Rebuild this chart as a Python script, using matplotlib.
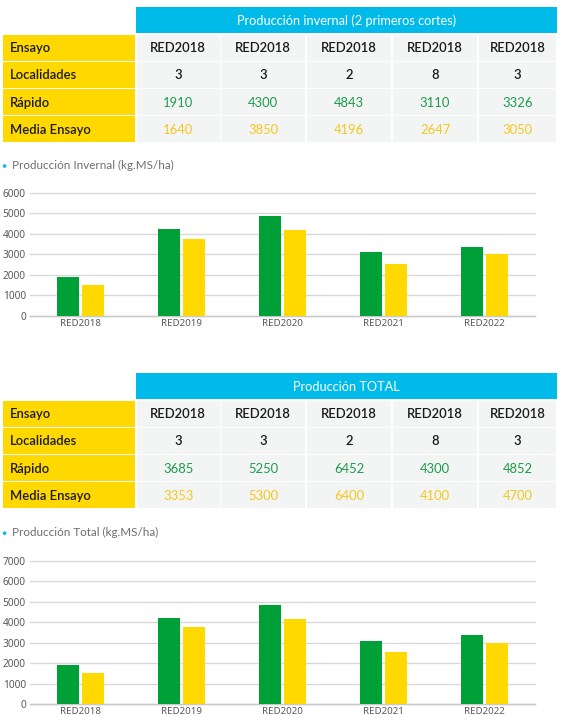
import matplotlib
matplotlib.use('Agg')
import matplotlib.pyplot as plt
from matplotlib.patches import Rectangle, Circle
import numpy as np

# ---------------- data ----------------
categories = ['RED2018', 'RED2019', 'RED2020', 'RED2021', 'RED2022']
row_labels = ['Ensayo', 'Localidades', 'Rápido', 'Media Ensayo']
ensayo_labels = ['RED2018', 'RED2018', 'RED2018', 'RED2018', 'RED2018']
localidades = [3, 3, 2, 8, 3]

inv_title = 'Producción invernal (2 primeros cortes)'
inv_rapido_tbl = [1910, 4300, 4843, 3110, 3326]
inv_media_tbl = [1640, 3850, 4196, 2647, 3050]

tot_title = 'Producción TOTAL'
tot_rapido_tbl = [3685, 5250, 6452, 4300, 4852]
tot_media_tbl = [3353, 5300, 6400, 4100, 4700]

inv_chart_title = 'Producción Invernal (kg.MS/ha)'
inv_rapido_bar = [1900, 4230, 4860, 3110, 3355]
inv_media_bar = [1510, 3750, 4180, 2530, 3010]
inv_ticks = [0, 1000, 2000, 3000, 4000, 5000, 6000]

tot_chart_title = 'Producción Total (kg.MS/ha)'
tot_rapido_bar = [1900, 4230, 4860, 3110, 3355]
tot_media_bar = [1510, 3750, 4180, 2530, 3010]
tot_ticks = [0, 1000, 2000, 3000, 4000, 5000, 6000, 7000]

# ---------------- style ----------------
W, H = 562, 717
CYAN = '#00bbe9'
YEL = '#ffd800'
CELL = '#f3f4f4'
GREEN_BAR = '#00a038'
YEL_BAR = '#ffd900'
GREEN_TXT = '#1c9c4c'
YEL_TXT = '#f3c71f'
DARK = '#1a1a1a'
TFONT = ['Lato', 'DejaVu Sans']
CFONT = ['Noto Sans', 'DejaVu Sans']

fig = plt.figure(figsize=(W / 100, H / 100), dpi=100)
ov = fig.add_axes([0, 0, 1, 1])
ov.set_xlim(0, W)
ov.set_ylim(H, 0)
ov.axis('off')

col_edges = [136, 220.5, 306, 392, 478, 557]


def draw_table(top, title, rapido, media):
    ov.add_patch(Rectangle((col_edges[0], top), col_edges[-1] - col_edges[0], 26,
                           color=CYAN, lw=0))
    ov.text((col_edges[0] + col_edges[-1]) / 2, top + 13.5, title, color='white',
            fontsize=9.2, ha='center', va='center', family=TFONT)
    rows = [ensayo_labels, localidades, rapido, media]
    colors = [DARK, DARK, GREEN_TXT, YEL_TXT]
    for i, (lab, vals, c) in enumerate(zip(row_labels, rows, colors)):
        rt = top + 27.2 + i * 27.3
        ov.add_patch(Rectangle((3, rt), 131.5, 26, color=YEL, lw=0))
        ov.text(9.5, rt + 13.5, lab, color=DARK, fontsize=9.4, ha='left',
                va='center', family=TFONT, weight='semibold')
        for j, v in enumerate(vals):
            x0, x1 = col_edges[j], col_edges[j + 1]
            ov.add_patch(Rectangle((x0 + 0.7, rt), x1 - x0 - 1.4, 26, color=CELL, lw=0))
            ov.text((x0 + x1) / 2, rt + 13.5, str(v), color=c, fontsize=9.4,
                    ha='center', va='center', family=TFONT,
                    weight='semibold' if i < 2 else 'normal')


def draw_chart(title, title_y, zero_y, top_val, top_y, ticks, rap, med):
    ov.add_patch(Circle((4.6, title_y + 0.5), 1.8, color=CYAN, lw=0))
    ov.text(11.5, title_y, title, color='#6e6e6e', fontsize=8.4, ha='left',
            va='center', family=TFONT)
    ppu = (zero_y - top_y) / top_val
    ax_top = top_y - 6
    ax = fig.add_axes([30 / W, 1 - zero_y / H, 505 / W, (zero_y - ax_top) / H])
    ax.patch.set_alpha(0)
    ax.set_xlim(-0.5, len(categories) - 0.5)
    ax.set_ylim(0, (zero_y - ax_top) / ppu)
    x = np.arange(len(categories))
    bw = 0.218
    off = 0.119
    ax.bar(x - off, rap, width=bw, color=GREEN_BAR, zorder=3)
    ax.bar(x + off, med, width=bw, color=YEL_BAR, zorder=3)
    ax.set_yticks(ticks)
    ax.set_yticklabels([str(t) for t in ticks], family=CFONT, fontsize=7.3,
                       color='#595959')
    ax.set_xticks(x)
    ax.set_xticklabels(categories, family=CFONT, fontsize=7.0, color='#595959')
    ax.tick_params(axis='both', length=0)
    ax.tick_params(axis='y', pad=3)
    ax.tick_params(axis='x', pad=1.8)
    ax.grid(axis='y', color='#d9d9d9', lw=1.0, zorder=0)
    ax.grid(axis='x', visible=False)
    for gl in ax.get_ygridlines():
        gl.set_clip_on(False)
    for s in ['top', 'right', 'left']:
        ax.spines[s].set_visible(False)
    ax.spines['bottom'].set_color('#c9c9c9')
    ax.spines['bottom'].set_linewidth(1.0)
    return ax


draw_table(7.3, inv_title, inv_rapido_tbl, inv_media_tbl)
draw_chart(inv_chart_title, 165.5, 316, 6000, 192.7, inv_ticks,
           inv_rapido_bar, inv_media_bar)
draw_table(373.3, tot_title, tot_rapido_tbl, tot_media_tbl)
draw_chart(tot_chart_title, 532.7, 704.3, 7000, 560.7, tot_ticks,
           tot_rapido_bar, tot_media_bar)

fig.savefig('out.png', dpi=100)
